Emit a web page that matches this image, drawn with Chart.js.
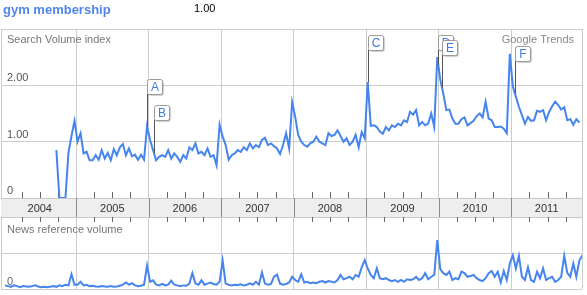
<!DOCTYPE html>
<html><head><meta charset="utf-8">
<script src="https://cdn.jsdelivr.net/npm/chart.js@4"></script>
<style>
html,body{margin:0;padding:0;background:#fff;}
#wrap{position:relative;width:587px;height:295px;overflow:hidden;font-family:"Liberation Sans",Arial,sans-serif;}
#title{position:absolute;left:3px;top:2px;font-size:13px;line-height:15px;font-weight:bold;color:#4f86ec;white-space:nowrap;}
#legend{position:absolute;left:194px;top:2px;font-size:11px;line-height:13px;color:#000;}
canvas{position:absolute;left:0;top:0;}
</style></head><body>
<div id="wrap"><canvas id="c" width="587" height="295"></canvas><div id="title">gym membership</div><div id="legend">1.00</div></div>
<script>
// ---- data (half-month samples, 24 per year) ----
const years = [2004, 2005, 2006, 2007, 2008, 2009, 2010, 2011];
const yearLabels = ['2004', '2005', '2006', '2007', '2008', '2009', '2010', '2011'];

const search2004 = [null,null,null,null,null,null,null,null,null,null,null,null,null,null,null,null,null,0.85,0,0,0,0.8,1.1,1.37];
const search2005 = [1.0,1.15,0.79,0.82,0.67,0.67,0.76,0.68,0.85,0.7,0.8,0.67,0.87,0.76,0.9,0.96,0.76,0.88,0.74,0.77,0.68,0.77,0.68,1.27];
const search2006 = [1.03,0.85,0.67,0.73,0.76,0.73,0.85,0.7,0.79,0.73,0.64,0.76,0.7,0.9,0.85,0.97,0.79,0.82,0.76,0.88,0.73,0.76,0.58,1.3];
const search2007 = [1.09,0.94,0.68,0.76,0.79,0.85,0.82,0.9,0.85,0.97,0.88,0.94,0.9,1.03,1.07,0.94,0.97,0.92,0.88,0.78,0.94,1.15,0.88,1.7];
const search2008 = [1.44,1.12,1.0,0.94,0.91,0.97,1.0,1.09,1.0,0.97,0.94,1.15,1.1,1.12,1.2,1.1,1.0,1.06,0.94,1.0,1.12,0.9,1.17,1.06];
const search2009 = [2.06,1.28,1.29,1.26,1.18,1.14,1.26,1.2,1.29,1.26,1.32,1.29,1.38,1.35,1.53,1.48,1.56,1.29,1.35,1.29,1.32,1.5,1.26,2.5];
const search2010 = [2.1,1.85,1.56,1.57,1.41,1.32,1.32,1.4,1.43,1.29,1.33,1.37,1.45,1.5,1.43,1.71,1.41,1.38,1.26,1.26,1.27,1.23,1.15,2.56];
const search2011 = [1.98,1.8,1.62,1.47,1.32,1.44,1.37,1.38,1.55,1.53,1.56,1.38,1.53,1.63,1.71,1.65,1.57,1.61,1.38,1.4,1.3,1.4,1.34,null];

const news2004 = [0.1,0.08,0.06,0.1,0.08,0.05,0.08,0.07,0.06,0.08,0.1,0.07,0.05,0.06,0.05,0.06,0.08,0.06,0.1,0.08,0.12,0.1,0.41,0.12];
const news2005 = [0.12,0.2,0.1,0.12,0.08,0.09,0.07,0.06,0.08,0.07,0.06,0.08,0.06,0.07,0.09,0.12,0.18,0.12,0.16,0.1,0.08,0.09,0.12,0.65];
const news2006 = [0.2,0.24,0.12,0.1,0.14,0.1,0.12,0.23,0.12,0.1,0.08,0.1,0.09,0.15,0.44,0.15,0.12,0.24,0.12,0.15,0.18,0.14,0.12,0.2];
const news2007 = [0.79,0.15,0.12,0.1,0.12,0.11,0.13,0.1,0.12,0.16,0.12,0.2,0.12,0.46,0.15,0.12,0.14,0.34,0.4,0.15,0.12,0.14,0.18,0.34];
const news2008 = [0.25,0.2,0.41,0.18,0.2,0.16,0.18,0.16,0.2,0.22,0.18,0.22,0.2,0.18,0.25,0.39,0.27,0.3,0.34,0.27,0.39,0.34,0.6,0.8];
const news2009 = [0.57,0.39,0.3,0.57,0.3,0.27,0.3,0.25,0.22,0.25,0.2,0.25,0.2,0.27,0.25,0.27,0.34,0.25,0.3,0.44,0.27,0.34,0.39,1.36];
const news2010 = [0.55,0.44,0.39,0.48,0.25,0.3,0.27,0.48,0.44,0.34,0.36,0.39,0.3,0.25,0.22,0.3,0.44,0.5,0.34,0.48,0.18,0.5,0.25,0.71];
const news2011 = [0.94,0.57,0.92,0.34,0.25,0.6,0.25,0.2,0.48,0.3,0.57,0.25,0.3,0.34,0.2,0.25,0.34,0.92,0.45,0.34,0.71,0.34,0.79,0.94];

const searchTickValues = [0, 1, 2];
const newsTickValues = [0];
const annotationLetters = ['A', 'B', 'C', 'D', 'E', 'F'];
const annotationDates = [2005.979, 2006.075, 2009.021, 2009.994, 2010.045, 2011.051];

// ---- build ----
const searchByYear = [search2004, search2005, search2006, search2007, search2008, search2009, search2010, search2011];
const newsByYear = [news2004, news2005, news2006, news2007, news2008, news2009, news2010, news2011];
function toPoints(byYear) {
  const pts = [];
  byYear.forEach((vals, k) => vals.forEach((v, i) => pts.push({ x: years[k] + (i + 0.5) / vals.length, y: v })));
  return pts;
}
const searchPoints = toPoints(searchByYear);
const newsPoints = toPoints(newsByYear);

function valueAt(pts, x) {
  for (let i = 0; i < pts.length - 1; i++) {
    const a = pts[i], b = pts[i + 1];
    if (a.y == null || b.y == null) continue;
    if (x >= a.x && x <= b.x) return a.y + (b.y - a.y) * (x - a.x) / (b.x - a.x);
  }
  return 0;
}

const FONT = '"Liberation Sans", Arial, sans-serif';
Chart.defaults.font.family = FONT;
const X_MIN = 2003.966, X_MAX = 2011.974;

function noPad(s) { s.width = 0; s.paddingTop = 0; s.paddingBottom = 0; s.paddingLeft = 0; s.paddingRight = 0; }

const decor = {
  id: 'decor',
  beforeDatasetsDraw(chart) {
    const ctx = chart.ctx, ca = chart.chartArea;
    const x = chart.scales.x, band = chart.scales.band, y = chart.scales.y, yn = chart.scales.yNews;
    ctx.save();
    // year band
    ctx.fillStyle = '#eeeeee';
    ctx.fillRect(ca.left, band.top, ca.right - ca.left, band.bottom - band.top);
    ctx.strokeStyle = '#c8c8c8'; ctx.lineWidth = 1;
    ctx.beginPath();
    ctx.moveTo(ca.left, Math.round(band.top) + 0.5); ctx.lineTo(ca.right, Math.round(band.top) + 0.5);
    ctx.moveTo(ca.left, Math.round(band.bottom) + 0.5); ctx.lineTo(ca.right, Math.round(band.bottom) + 0.5);
    ctx.stroke();
    // year separators
    ctx.strokeStyle = '#8a8a8a';
    ctx.beginPath();
    years.slice(1).forEach(yr => {
      const px = Math.round(x.getPixelForValue(yr)) + 0.5;
      ctx.moveTo(px, band.top); ctx.lineTo(px, band.bottom);
    });
    ctx.stroke();
    // quarter ticks
    ctx.strokeStyle = '#666';
    ctx.beginPath();
    years.forEach(yr => [0.25, 0.5, 0.75].forEach(q => {
      const px = Math.round(x.getPixelForValue(yr + q)) + 0.5;
      ctx.moveTo(px, band.top - 6); ctx.lineTo(px, band.top);
      ctx.moveTo(px, band.bottom); ctx.lineTo(px, band.bottom + 5);
    }));
    ctx.stroke();
    // year labels
    ctx.fillStyle = '#333';
    ctx.font = '11px ' + FONT;
    ctx.textAlign = 'center'; ctx.textBaseline = 'middle';
    years.forEach((yr, k) => {
      const a = Math.max(ca.left, x.getPixelForValue(yr));
      const b = Math.min(ca.right, x.getPixelForValue(yr + 1));
      ctx.fillText(yearLabels[k], (a + b) / 2, (band.top + band.bottom) / 2 + 1);
    });
    // panel captions
    ctx.textAlign = 'left';
    ctx.fillStyle = '#777';
    ctx.fillText('Search Volume index', ca.left + 6, y.top + 11);
    ctx.fillText('News reference volume', ca.left + 6, yn.top + 13);
    ctx.textAlign = 'right';
    ctx.fillStyle = '#888';
    ctx.fillText('Google Trends', ca.right - 8, y.top + 11);
    ctx.restore();
  },
  afterDatasetsDraw(chart) {
    const ctx = chart.ctx;
    const x = chart.scales.x, y = chart.scales.y;
    ctx.save();
    annotationLetters.forEach((letter, i) => {
      const d = annotationDates[i];
      const px = Math.round(x.getPixelForValue(d));
      const py = y.getPixelForValue(valueAt(searchPoints, d));
      let top = py - 33 - 15;
      if (top < y.top + 6) top = y.top + 6;
      const bottom = top + 15;
      ctx.strokeStyle = '#555'; ctx.lineWidth = 1;
      ctx.beginPath(); ctx.moveTo(px + 0.5, bottom); ctx.lineTo(px + 0.5, py); ctx.stroke();
      ctx.save();
      ctx.shadowColor = 'rgba(0,0,0,0.35)'; ctx.shadowOffsetX = 1; ctx.shadowOffsetY = 1; ctx.shadowBlur = 1;
      ctx.fillStyle = '#fff';
      ctx.beginPath(); ctx.roundRect(px + 0.5, Math.round(top) + 0.5, 15, 15, 2); ctx.fill();
      ctx.restore();
      ctx.strokeStyle = '#9a9a9a';
      ctx.beginPath(); ctx.roundRect(px + 0.5, Math.round(top) + 0.5, 15, 15, 2); ctx.stroke();
      ctx.fillStyle = '#3f7be0';
      ctx.font = '12px ' + FONT;
      ctx.textAlign = 'center'; ctx.textBaseline = 'middle';
      ctx.fillText(letter, px + 8, Math.round(top) + 8.5);
    });
    ctx.restore();
  }
};

new Chart(document.getElementById('c'), {
  type: 'line',
  data: {
    datasets: [
      { data: searchPoints, yAxisID: 'y', borderColor: '#4684ee', borderWidth: 2, pointRadius: 0, tension: 0, spanGaps: false },
      { data: newsPoints, yAxisID: 'yNews', borderColor: '#4684ee', borderWidth: 2, pointRadius: 0, tension: 0 }
    ]
  },
  options: {
    responsive: false, animation: false,
    layout: { padding: { top: 29, left: 1, right: 5, bottom: 6 } },
    plugins: { legend: { display: false }, tooltip: { enabled: false }, title: { display: false } },
    scales: {
      x: {
        type: 'linear', min: X_MIN, max: X_MAX,
        ticks: { display: false },
        grid: { color: '#cccccc', drawTicks: false },
        border: { display: false },
        afterBuildTicks: s => { s.ticks = [X_MIN].concat(years.slice(1), [X_MAX]).map(v => ({ value: v })); },
        afterFit: s => { s.height = 0; s.paddingLeft = 0; s.paddingRight = 0; s.paddingTop = 0; s.paddingBottom = 0; }
      },
      yNews: {
        stack: 'panels', stackWeight: 72, position: 'left', min: 0, max: 2,
        ticks: { stepSize: 1, mirror: true, padding: 6, labelOffset: -7, color: '#666', font: { size: 11 },
          callback: v => newsTickValues.includes(v) ? String(v) : '' },
        grid: { color: '#cccccc', drawTicks: false },
        border: { display: false },
        afterFit: noPad
      },
      band: {
        stack: 'panels', stackWeight: 19, position: 'left', min: 0, max: 1,
        ticks: { display: false }, grid: { display: false }, border: { display: false },
        afterFit: noPad
      },
      y: {
        stack: 'panels', stackWeight: 169, position: 'left', min: 0, max: 3,
        ticks: { stepSize: 1, mirror: true, padding: 6, labelOffset: -7, color: '#555', font: { size: 11 },
          callback: v => searchTickValues.includes(v) ? (v === 0 ? '0' : v.toFixed(2)) : '' },
        grid: { color: '#cccccc', drawTicks: false },
        border: { display: false },
        afterFit: noPad
      }
    }
  },
  plugins: [decor]
});
</script>
</body></html>
